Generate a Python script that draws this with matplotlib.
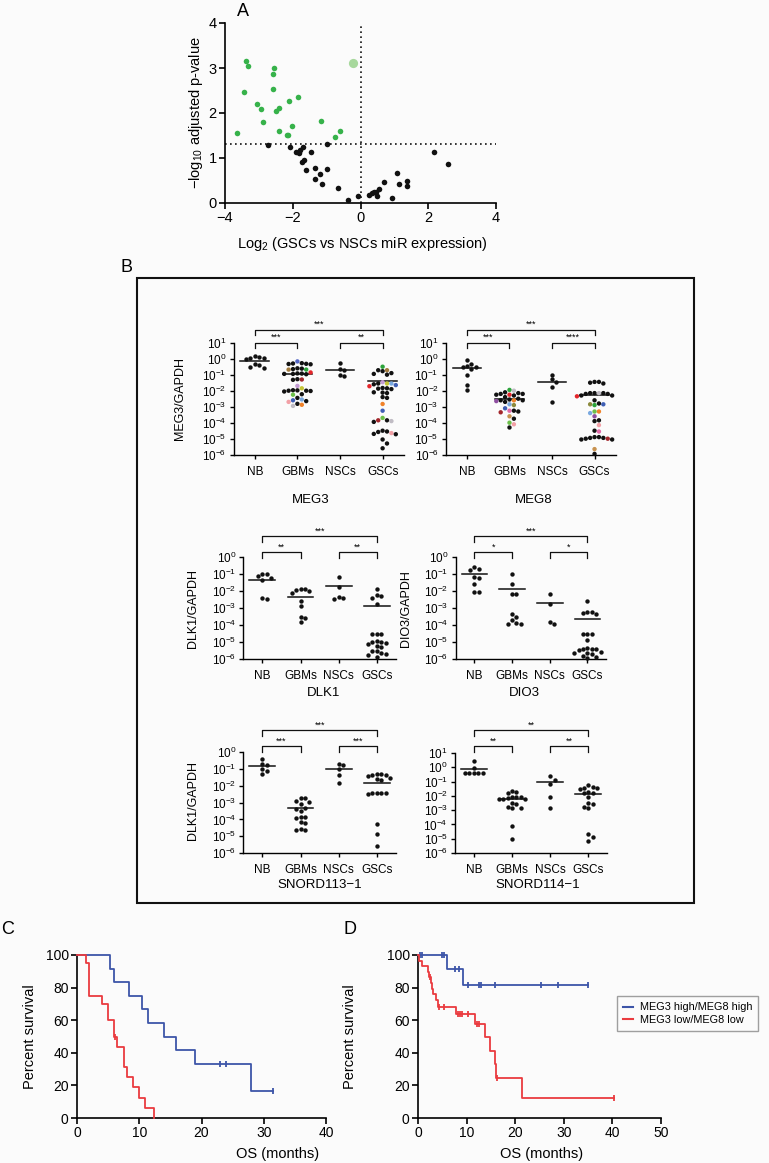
import numpy as np
import matplotlib
matplotlib.use('Agg')
import matplotlib.pyplot as plt
from matplotlib.patches import Rectangle
from matplotlib.lines import Line2D
from matplotlib.ticker import NullLocator

plt.rcParams['font.family'] = ['Liberation Sans', 'DejaVu Sans']
plt.rcParams['mathtext.fontset'] = 'custom'
plt.rcParams['mathtext.rm'] = 'Liberation Sans'
plt.rcParams['mathtext.it'] = 'Liberation Sans:italic'

# ---------------- panel A: volcano plot ----------------
green_x = [-3.38, -3.31, -3.43, -2.56, -2.57, -2.59, -3.07, -2.94, -2.88, -2.41, -2.49,
           -2.11, -1.84, -2.42, -2.01, -2.18, -2.13, -1.16, -0.75, -0.61, -3.65]
green_y = [3.16, 3.04, 2.47, 3.01, 2.86, 2.54, 2.20, 2.09, 1.79, 2.11, 2.04,
           2.26, 2.36, 1.61, 1.72, 1.50, 1.50, 1.82, 1.47, 1.61, 1.55]
black_x = [-2.73, -2.07, -1.00, -1.90, -1.83, -1.78, -1.70, -1.47, -1.67, -1.73, -1.61,
           -1.34, -1.00, -1.19, -1.34, -1.13, -0.65, -0.37, -0.08, 0.24, 0.33, 0.40,
           0.46, 0.55, 0.48, 0.68, 0.92, 1.07, 1.14, 1.37, 1.37, 2.17, 2.59]
black_y = [1.28, 1.24, 1.30, 1.13, 1.10, 1.17, 1.24, 1.14, 0.96, 0.91, 0.73,
           0.78, 0.76, 0.65, 0.53, 0.43, 0.33, 0.07, 0.16, 0.18, 0.22, 0.24,
           0.24, 0.30, 0.16, 0.46, 0.10, 0.67, 0.42, 0.48, 0.38, 1.13, 0.87]
hilite_x = [-0.23]
hilite_y = [3.10]
p_cut = 1.3

# ---------------- panel B: expression (log10 of ratio to GAPDH) ----------------
groups = ['NB', 'GBMs', 'NSCs', 'GSCs']

meg3_vals = [
    [0.06, 0.06, -0.02, 0.08, 0.15, -0.56, -0.33, -0.54, -0.42],
    [-0.17, -0.28, -0.30, -0.32, -0.33, -0.35, -0.60, -0.62, -0.65, -0.68,
     -0.68, -0.86, -0.92, -0.93, -0.95, -0.95, -0.97, -1.28, -1.30, -1.32,
     -1.70, -1.85, -1.97, -1.98, -2.0, -2.0, -2.02, -2.05, -2.22, -2.25,
     -2.45, -2.55, -2.6, -2.65, -2.7, -2.82, -2.88, -2.95],
    [-0.3, -0.65, -0.7, -1.05, -1.1],
    [-0.50, -0.72, -0.72, -0.78, -0.90, -0.95, -1.0, -1.47, -1.55, -1.55,
     -1.55, -1.6, -1.65, -1.72, -1.83, -1.85, -1.87, -1.9, -2.1, -2.12,
     -2.15, -2.4, -2.45, -2.83, -3.25, -3.7, -3.85, -3.85, -3.9, -3.95,
     -4.5, -4.55, -4.58, -4.65, -4.7, -4.72, -5.05, -5.3, -5.6]]
meg3_codes = [
    None,
    ['blu', 'k', 'k', 'k', 'k', 'k', 'k', 'k', 'k', 'grn',
     'brn', 'red', 'k', 'k', 'k', 'k', 'k', 'k', 'drd', 'k',
     'lav', 'yel', 'k', 'k', 'k', 'k', 'k', 'k', 'k', 'lgr',
     'k', 'lbl', 'dbl', 'k', 'pnk', 'k', 'org', 'gry'],
    None,
    ['grn', 'brn', 'k', 'k', 'k', 'k', 'k', 'lav', 'yel', 'k',
     'lbl', 'k', 'dbl', 'red', 'k', 'k', 'k', 'k', 'k', 'k',
     'k', 'k', 'k', 'org', 'dbl', 'lgr', 'k', 'drd', 'gry', 'k',
     'k', 'k', 'k', 'pnk', 'k', 'k', 'k', 'k', 'k']]
meg3_means = [-0.12, -0.94, -0.71, -1.40]

meg8_vals = [
    [-0.08, -0.35, -0.45, -0.5, -0.55, -0.65, -1.05, -1.65, -1.95],
    [-1.95, -2.0, -2.1, -2.15, -2.2, -2.2, -2.25, -2.25, -2.3, -2.4,
     -2.5, -2.55, -2.6, -2.6, -2.6, -2.65, -2.7, -2.85, -2.9, -3.1,
     -3.25, -3.25, -3.3, -3.35, -3.6, -3.75, -4.0, -4.1, -4.3],
    [-1.0, -1.3, -1.45, -1.75, -2.7],
    [-1.45, -1.45, -1.5, -1.55, -2.15, -2.15, -2.15, -2.2, -2.2, -2.15,
     -2.3, -2.3, -2.35, -2.6, -2.8, -2.85, -2.9, -2.85, -3.3, -3.4,
     -3.3, -3.6, -3.85, -3.9, -4.15, -4.5, -4.55, -4.9, -4.95, -5.0,
     -5.05, -5.05, -4.95, -4.9, -5.0, -5.65, -5.95]]
meg8_codes = [
    None,
    ['grn', 'gry', 'k', 'k', 'k', 'k', 'red', 'k', 'k', 'k',
     'k', 'k', 'org', 'k', 'k', 'pur', 'k', 'lbl', 'olv', 'dbl',
     'mag', 'k', 'k', 'drd', 'tan', 'k', 'lgr', 'pnk', 'k'],
    None,
    ['k', 'k', 'k', 'k', 'k', 'gry', 'k', 'k', 'k', 'k',
     'k', 'k', 'red', 'k', 'k', 'olv', 'grn', 'dbl', 'lgr', 'lbl',
     'org', 'pur', 'k', 'k', 'pnk', 'k', 'mag', 'k', 'k', 'k',
     'k', 'k', 'k', 'k', 'drd', 'tan', 'k']]
meg8_means = [-0.56, -2.52, -1.44, -2.27]

dlk1_vals = [
    [-1.0, -1.0, -1.1, -1.2, -1.35, -2.4, -2.45],
    [-1.85, -1.88, -1.9, -2.0, -2.1, -2.55, -2.9, -3.5, -3.6, -3.8],
    [-1.15, -1.78, -2.35, -2.4, -2.45],
    [-1.85, -2.25, -2.3, -2.4, -2.75, -4.5, -4.5, -4.5, -4.95, -5.0, -5.0,
     -5.05, -5.1, -5.25, -5.3, -5.5, -5.55, -5.65, -5.7, -5.75, -5.9]]
dlk1_means = [-1.34, -2.35, -1.7, -2.9]

dio3_vals = [
    [-0.55, -0.7, -0.75, -1.15, -1.2, -1.55, -2.05, -2.05],
    [-1.0, -1.55, -2.15, -2.15, -3.35, -3.5, -3.7, -3.85, -3.95, -3.95],
    [-2.15, -2.75, -3.8, -3.95],
    [-2.55, -3.2, -3.25, -3.3, -3.35, -4.5, -4.5, -4.55, -4.9, -5.35, -5.4,
     -5.4, -5.45, -5.4, -5.6, -5.65, -5.7, -5.65, -5.85, -5.9, -5.95]]
dio3_means = [-1.0, -1.85, -2.7, -3.66]

snord113_vals = [
    [-0.4, -0.72, -0.75, -1.0, -1.1, -1.3],
    [-2.7, -2.75, -2.9, -2.95, -3.1, -3.3, -3.35, -3.5, -3.85, -3.85,
     -3.9, -4.15, -4.2, -4.55, -4.6, -4.65],
    [-0.68, -0.78, -1.0, -1.35, -1.8],
    [-1.3, -1.3, -1.35, -1.35, -1.4, -1.55, -1.6, -1.65, -2.4, -2.45,
     -2.5, -2.45, -2.4, -4.3, -4.85, -5.6]]
snord113_means = [-0.8, -3.32, -1.0, -1.85]

snord114_vals = [
    [0.45, -0.05, -0.4, -0.42, -0.42, -0.42, -0.42],
    [-1.65, -1.7, -1.8, -2.05, -2.1, -2.1, -2.15, -2.2, -2.2, -2.25,
     -2.5, -2.55, -2.8, -2.85, -2.85, -4.1, -5.0],
    [-0.6, -0.9, -1.2, -2.05, -2.85],
    [-1.25, -1.4, -1.45, -1.45, -1.5, -1.75, -1.8, -1.8, -2.1, -2.5,
     -2.55, -2.8, -2.85, -4.65, -4.85, -5.15]]
snord114_means = [-0.1, -2.19, -1.05, -1.87]

sample_colours = {'k': '#111111', 'blu': '#5466c4', 'grn': '#2ca33a', 'brn': '#a27b3d',
                  'red': '#e4262b', 'drd': '#a3272c', 'lav': '#c39bd3', 'yel': '#c5c537',
                  'lgr': '#6cc04a', 'dbl': '#3f5fb5', 'pnk': '#f2a0a6', 'lbl': '#7aa9e0',
                  'gry': '#c0bcc4', 'org': '#f0822a', 'olv': '#8c8a3c', 'pur': '#8e4fa0',
                  'mag': '#e06aa8', 'tan': '#c8924f'}

# ---------------- panels C, D: Kaplan-Meier ----------------
c_blue_t = [0, 5.35, 6.0, 8.4, 10.4, 11.35, 13.9, 15.9, 18.9, 27.9, 31.5]
c_blue_s = [100, 91.7, 83.3, 75, 66.7, 58.3, 50, 41.7, 33.3, 16.7, 16.7]
c_blue_cens_t = [23.0, 24.0, 31.5]
c_blue_cens_s = [33.3, 33.3, 16.7]
c_red_t = [0, 1.5, 2.0, 4.0, 4.9, 6.0, 6.4, 7.5, 8.0, 9.0, 9.9, 11.0, 12.4]
c_red_s = [100, 95, 75, 70, 60, 50, 43.75, 31.25, 25, 18.75, 12.5, 6.25, 0]
c_red_cens_t = [6.1]
c_red_cens_s = [50]

d_blue_t = [0, 6.0, 9.3, 35.0]
d_blue_s = [100, 91.7, 81.5, 81.5]
d_blue_cens_t = [0.35, 0.9, 4.9, 5.3, 7.6, 8.4, 10.3, 12.5, 12.9, 15.9, 25.4, 28.9, 35.0]
d_blue_cens_s = [100, 100, 100, 100, 91.7, 91.7, 81.5, 81.5, 81.5, 81.5, 81.5, 81.5, 81.5]
d_red_t = [0, 0.2, 0.8, 2.1, 2.3, 2.6, 2.9, 3.1, 3.8, 4.1, 7.8, 11.8, 13.8, 14.8, 15.9, 16.1, 21.4, 40.4]
d_red_s = [100, 96.6, 93.1, 89.7, 86.2, 82.8, 79.3, 75.9, 72.4, 68.0, 64.0, 57.6, 49.4, 41.2,
           33.0, 24.7, 12.4, 12.4]
d_red_cens_t = [2.5, 4.3, 5.3, 8.3, 8.7, 9.1, 10.3, 12.2, 12.6, 16.2, 40.4]
d_red_cens_s = [86.2, 68, 68, 64, 64, 64, 64, 57.6, 57.6, 24.7, 12.4]

# ---------------- figure ----------------
W, H = 769, 1163
fig = plt.figure(figsize=(W / 100, H / 100), dpi=100)
fig.patch.set_facecolor('#fbfbfb')


def px_axes(l, t, r, b):
    ax = fig.add_axes([l / W, 1 - b / H, (r - l) / W, (b - t) / H])
    ax.set_facecolor('none')
    return ax


def ftext(x, y, s, **kw):
    fig.text(x / W, 1 - y / H, s, **kw)


def style(ax, lw=1.2, ticklen=4, size=9):
    for sp in ['top', 'right']:
        ax.spines[sp].set_visible(False)
    for sp in ['left', 'bottom']:
        ax.spines[sp].set_linewidth(lw)
    ax.tick_params(direction='out', length=ticklen, width=lw, labelsize=size, pad=2)


def swarm(vals, ppd, cat_px, d=4.4):
    # simple beeswarm: spread points sideways so they don't overlap (pixel space)
    vals = np.asarray(vals)
    offs = np.zeros(len(vals))
    placed = []
    for i in np.argsort(-vals):
        y = vals[i] * ppd
        for k in range(60):
            cand = ((k + 1) // 2) * d * (1 if k % 2 else -1)
            if all((cand - px) ** 2 + (y - py) ** 2 >= d * d for px, py in placed):
                break
        placed.append((cand, y))
        offs[i] = cand / cat_px
    return offs


# ---- A ----
ax = px_axes(225, 23, 496, 203)
style(ax, size=10.5)
ax.scatter(black_x, black_y, s=16, c='#111111', lw=0, zorder=3)
ax.scatter(green_x, green_y, s=16, c='#36b24a', lw=0, zorder=3)
ax.scatter(hilite_x, hilite_y, s=44, c='#a7d89c', lw=0, zorder=3)
ax.plot([-4, 4], [p_cut, p_cut], ls=(0, (1, 2)), color='#111111', lw=1.2, zorder=1)
ax.plot([0, 0], [0, 4], ls=(0, (1, 2)), color='#111111', lw=1.2, zorder=1)
ax.set_xlim(-4, 4)
ax.set_ylim(0, 4)
ax.set_xticks([-4, -2, 0, 2, 4])
ax.set_yticks([0, 1, 2, 3, 4])
ftext(362, 244, 'Log$_2$ (GSCs vs NSCs miR expression)', ha='center', va='center', fontsize=10.5)
ftext(196, 113, '$-$log$_{10}$ adjusted p-value', ha='center', va='center', fontsize=10.5, rotation=90)
ftext(243, 12, 'A', ha='center', va='center', fontsize=13)

# ---- B ----
fig.patches.append(Rectangle((137.4 / W, 1 - 903.3 / H), (694 - 137.4) / W, (903.3 - 278.3) / H,
                             transform=fig.transFigure, fill=False, lw=1.5, ec='#111111'))
ftext(127, 268, 'B', ha='center', va='center', fontsize=13)


def dot_panel(box, vals, codes, means, top, stars, low_px, high_px, title, title_xy, ylab, ylab_xy):
    ax = px_axes(*box)
    style(ax, lw=1.0, ticklen=3, size=8.5)
    ax.set_yscale('log')
    ax.set_xlim(-0.5, 3.5)
    ax.set_ylim(1e-6, 10.0 ** top)
    h_px = box[3] - box[1]
    ppd = h_px / (top + 6)
    cat_px = (box[2] - box[0]) / 4
    for i, v in enumerate(vals):
        offs = swarm(v, ppd, cat_px)
        cols = '#111111' if codes is None or codes[i] is None else [sample_colours[c] for c in codes[i]]
        ax.scatter(i + offs, 10.0 ** np.array(v), s=10, c=cols, lw=0, zorder=3, clip_on=False)
        ax.plot([i - 0.34, i + 0.34], [10.0 ** means[i]] * 2, color='#111111', lw=1.1, zorder=2)
    ax.set_yticks([10.0 ** k for k in range(-6, top + 1)])
    ax.yaxis.set_minor_locator(NullLocator())
    ax.set_xticks(range(4))
    ax.set_xticklabels(groups)
    ax.tick_params(axis='x', pad=5)
    # significance brackets
    tr = ax.get_xaxis_transform()
    tk = 5.5 / h_px
    for (i, j), s, ypx in zip([(0, 1), (2, 3), (0, 3)], stars, [low_px, low_px, high_px]):
        y = 1 + ypx / h_px
        ax.plot([i, i, j, j], [y - tk, y, y, y - tk], transform=tr, color='#111111', lw=0.9, clip_on=False)
        ax.text((i + j) / 2, y + 0.5 / h_px, s, transform=tr, ha='center', va='bottom', fontsize=6.5)
    ftext(title_xy[0], title_xy[1], title, ha='center', va='center', fontsize=9.5)
    if ylab:
        ftext(ylab_xy[0], ylab_xy[1], ylab, ha='center', va='center', fontsize=9, rotation=90)
    return ax


dot_panel((233.5, 342.7, 403.9, 454.7), meg3_vals, meg3_codes, meg3_means, 1,
          ['***', '**', '***'], 0, 13, 'MEG3', (311, 500), 'MEG3/GAPDH', (180, 399))
dot_panel((445.7, 342.7, 615.8, 454.7), meg8_vals, meg8_codes, meg8_means, 1,
          ['***', '****', '***'], 0, 13, 'MEG8', (534, 500), None, None)
dot_panel((243.3, 557.3, 395.9, 659), dlk1_vals, None, dlk1_means, 0,
          ['**', '**', '***'], 5, 21, 'DLK1', (324, 693), 'DLK1/GAPDH', (193, 609))
dot_panel((455.5, 557.3, 606.3, 659), dio3_vals, None, dio3_means, 0,
          ['*', '*', '***'], 5, 21, 'DIO3', (524, 693), 'DIO3/GAPDH', (406, 609))
dot_panel((243.3, 752.3, 395.9, 853), snord113_vals, None, snord113_means, 0,
          ['***', '***', '***'], 6, 22, 'SNORD113\u22121', (320, 885), 'DLK1/GAPDH', (193, 800))
dot_panel((454.8, 753, 607.4, 853), snord114_vals, None, snord114_means, 1,
          ['**', '**', '**'], 7, 23, 'SNORD114\u22121', (538, 885), None, None)

# ---- C, D ----
blue = '#3d55a8'
red = '#ea3b3f'


def km(ax, t, s, ct, cs, col):
    ax.plot(t, s, drawstyle='steps-post', color=col, lw=1.3, clip_on=False, zorder=3)
    ax.plot(ct, cs, ls='none', marker='|', ms=4, mew=1.3, color=col, clip_on=False, zorder=3)


axc = px_axes(77, 955, 326, 1118)
style(axc, size=10)
km(axc, c_blue_t, c_blue_s, c_blue_cens_t, c_blue_cens_s, blue)
km(axc, c_red_t, c_red_s, c_red_cens_t, c_red_cens_s, red)
axc.set_xlim(0, 40)
axc.set_ylim(0, 100)
axc.set_xticks(range(0, 41, 10))
axc.set_yticks(range(0, 101, 20))
ftext(278, 1154, 'OS (months)', ha='center', va='center', fontsize=10.5)
ftext(30, 1037, 'Percent survival', ha='center', va='center', fontsize=10.5, rotation=90)
ftext(8, 929, 'C', ha='center', va='center', fontsize=13)

axd = px_axes(418, 955, 661, 1118)
style(axd, size=10)
km(axd, d_blue_t, d_blue_s, d_blue_cens_t, d_blue_cens_s, blue)
km(axd, d_red_t, d_red_s, d_red_cens_t, d_red_cens_s, red)
axd.set_xlim(0, 50)
axd.set_ylim(0, 100)
axd.set_xticks(range(0, 51, 10))
axd.set_yticks(range(0, 101, 20))
ftext(542, 1154, 'OS (months)', ha='center', va='center', fontsize=10.5)
ftext(350, 1037, 'Percent survival', ha='center', va='center', fontsize=10.5, rotation=90)
ftext(350, 930, 'D', ha='center', va='center', fontsize=13)

handles = [Line2D([], [], color=blue, lw=1.5), Line2D([], [], color=red, lw=1.5)]
leg = fig.legend(handles, ['MEG3 high/MEG8 high', 'MEG3 low/MEG8 low'], loc='upper left',
                 bbox_to_anchor=(612 / W, 1 - 991 / H), fontsize=7.8, frameon=True, fancybox=False,
                 handlelength=0.9, handletextpad=0.6, borderpad=0.55, labelspacing=0.25)
leg.get_frame().set_edgecolor('#888888')
leg.get_frame().set_linewidth(1.0)
leg.get_frame().set_facecolor('#fbfbfb')

fig.savefig('out.png', dpi=100, facecolor=fig.get_facecolor())
